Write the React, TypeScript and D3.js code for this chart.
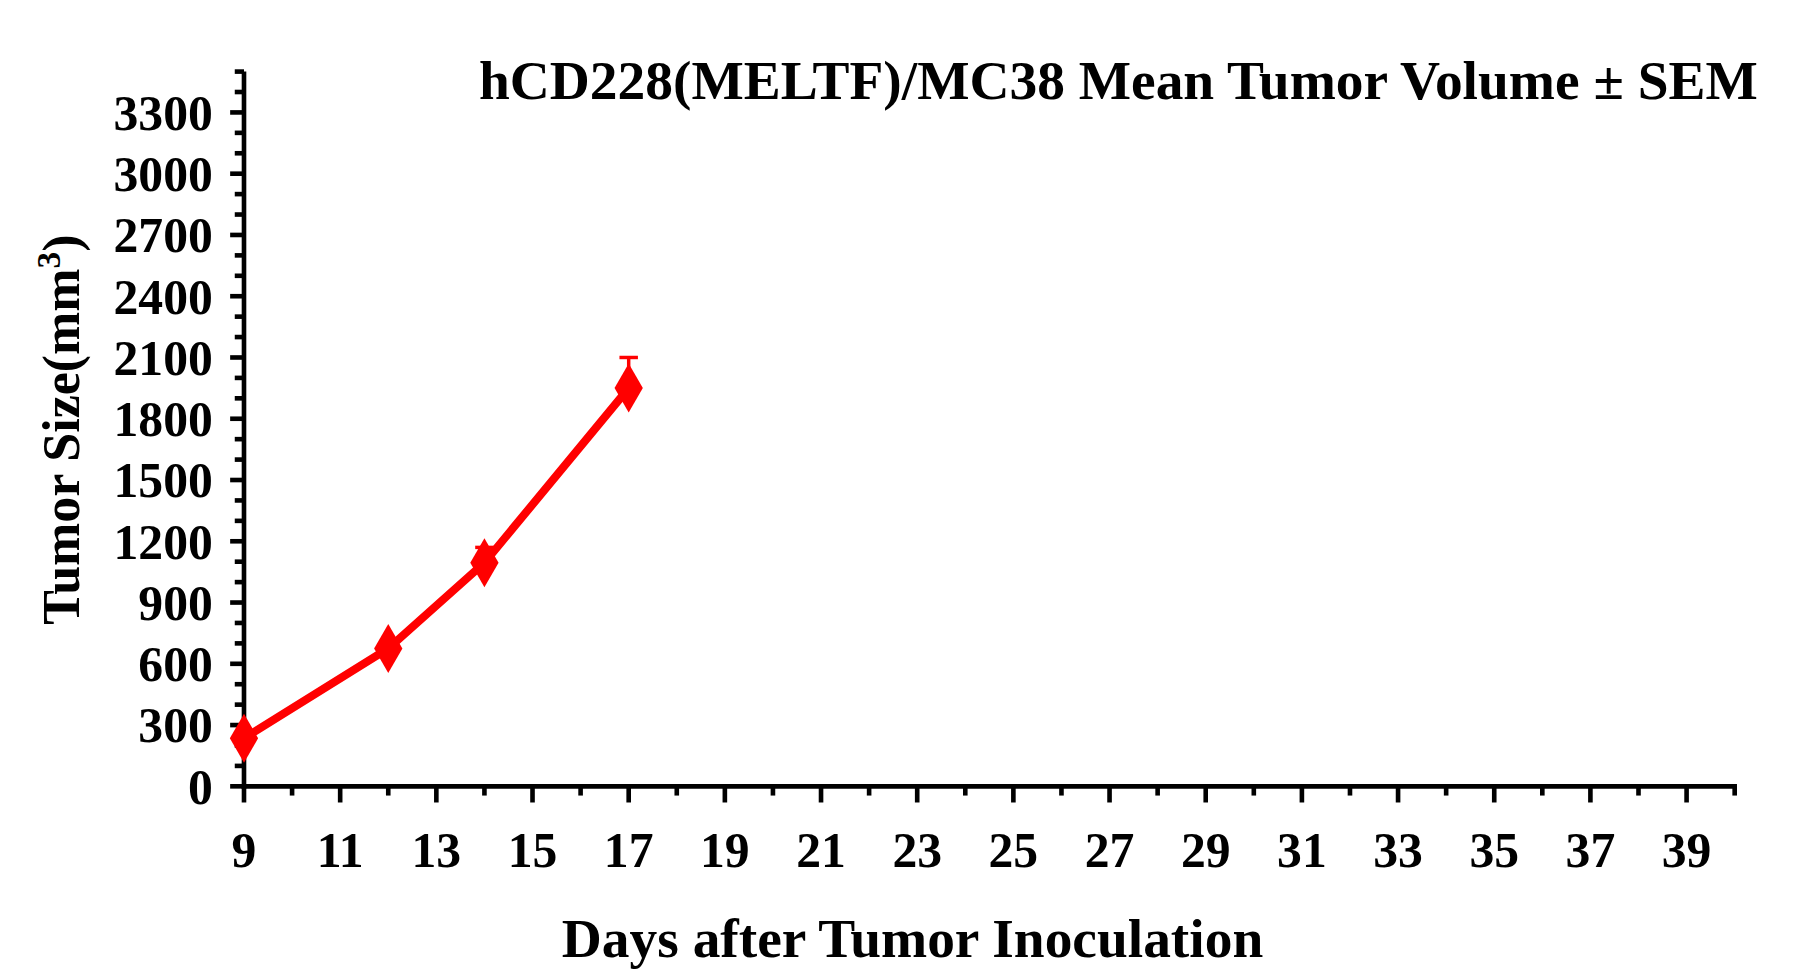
import React from "react";
import * as d3 from "d3";

const days = [9, 12, 14, 17];
const means = [235, 675, 1095, 1950];
const sems = [15, 20, 75, 150];
const yTicks = d3.range(0, 3301, 300);
const xTicks = d3.range(9, 40, 2);

export default function App() {
  const x = d3.scaleLinear().domain([9, 40]).range([211, 1502]);
  const y = d3.scaleLinear().domain([0, 3500]).range([681, 62]);
  const font = "'Liberation Serif', 'Times New Roman', serif";
  const line = d3.line<number>().x((_, i) => x(days[i])).y((v) => y(v));
  const diamond = d3.symbol().type(d3.symbolDiamond).size(520)();
  return (
    <svg width={1802} height={978} viewBox="0 0 1560 847" style={{ display: "block", margin: "-8px 0 0 -8px" }}>
      <rect width={1560} height={847} fill="#fff" />
      <line x1={211} x2={211} y1={62} y2={683} stroke="#000" strokeWidth={4} />
      {d3.range(0, 3501, 100).map((v) => (
        <line key={v} x1={211} x2={v % 300 === 0 ? 199 : 203} y1={y(v)} y2={y(v)} stroke="#000" strokeWidth={4} />
      ))}
      {yTicks.map((v) => (
        <text key={v} x={184} y={y(v)} dy="0.35em" textAnchor="end" fontFamily={font} fontWeight="bold" fontSize={43}>{v}</text>
      ))}
      <line x1={209} x2={1504} y1={681} y2={681} stroke="#000" strokeWidth={4} />
      {d3.range(9, 41).map((d) => (
        <line key={d} x1={x(d)} x2={x(d)} y1={681} y2={(d - 9) % 2 === 0 ? 695 : 689} stroke="#000" strokeWidth={4} />
      ))}
      {xTicks.map((d) => (
        <text key={d} x={x(d)} y={751} textAnchor="middle" fontFamily={font} fontWeight="bold" fontSize={43}>{d}</text>
      ))}
      {days.map((d, i) => (
        <g key={d} stroke="red" strokeWidth={3}>
          <line x1={x(d)} x2={x(d)} y1={y(means[i])} y2={y(means[i] + sems[i])} />
          <line x1={x(d) - 8} x2={x(d) + 8} y1={y(means[i] + sems[i])} y2={y(means[i] + sems[i])} />
        </g>
      ))}
      <path d={line(means) || ""} fill="none" stroke="red" strokeWidth={7} />
      {days.map((d, i) => (
        <path key={d} d={diamond || ""} transform={`translate(${x(d)},${y(means[i])})`} fill="red" />
      ))}
      <text x={1522} y={86} textAnchor="end" fontFamily={font} fontWeight="bold" fontSize={48}>hCD228(MELTF)/MC38 Mean Tumor Volume ± SEM</text>
      <text x={790} y={829} textAnchor="middle" fontFamily={font} fontWeight="bold" fontSize={48}>Days after Tumor Inoculation</text>
      <text transform="translate(68,372) rotate(-90)" textAnchor="middle" fontFamily={font} fontWeight="bold" fontSize={45}>
        Tumor Size(mm<tspan dy={-16} fontSize={29}>3</tspan><tspan dy={16}>)</tspan>
      </text>
    </svg>
  );
}
